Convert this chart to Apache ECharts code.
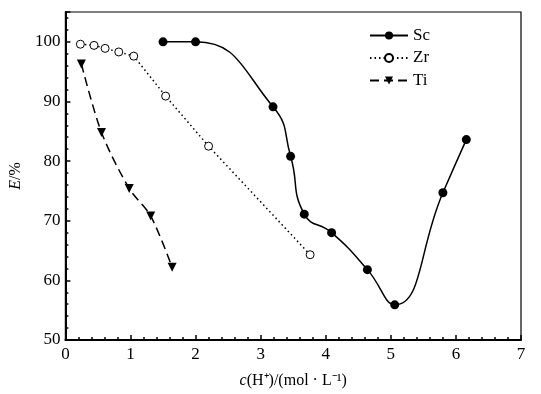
<!DOCTYPE html>
<html><head><meta charset="utf-8">
<script src="https://cdn.jsdelivr.net/npm/echarts@6/dist/echarts.min.js"></script>
<style>html,body{margin:0;padding:0;background:#fff}#c{width:541px;height:394px}</style>
</head><body><div id="c"></div>
<script>
const scX = [1.50, 2.00, 3.19, 3.46, 3.67, 4.09, 4.64, 5.06, 5.80, 6.16];
const scY = [100.0, 100.0, 89.1, 80.8, 71.1, 68.0, 61.8, 55.9, 74.7, 83.6];
const zrX = [0.23, 0.44, 0.61, 0.82, 1.05, 1.54, 2.20, 3.76];
const zrY = [99.6, 99.4, 98.9, 98.3, 97.6, 90.9, 82.5, 64.3];
const tiX = [0.245, 0.555, 0.98, 1.31, 1.64];
const tiY = [96.3, 84.8, 75.4, 70.8, 62.2];
const xTicks = [0,1,2,3,4,5,6,7];
const yTicks = [50,60,70,80,90,100];
const pair = (xs, ys) => xs.map((x,i)=>[x, ys[i]]);
const FONT = '"Liberation Serif", "Times New Roman", serif';
const chart = echarts.init(document.getElementById('c'));
chart.setOption({
  animation:false,
  backgroundColor:'#fff',
  grid:{left:63, top:12, right:20, bottom:52, show:true, borderColor:'#000', borderWidth:1.2},
  legend:{
    left:364, top:22, orient:'vertical', itemWidth:38, itemHeight:10, itemGap:5.5,
    textStyle:{fontFamily:FONT, fontSize:17, color:'#000'},
    data:['Sc','Zr','Ti']
  },
  xAxis:{
    type:'value', min:0, max:7, interval:1,
    name:'{i|c}(H⁺)/(mol · L⁻¹)', nameLocation:'middle', nameGap:33,
    nameTextStyle:{fontFamily:FONT, fontSize:16, color:'#000', rich:{i:{fontStyle:'italic', fontFamily:FONT, fontSize:16, color:'#000'}}},
    axisLine:{lineStyle:{color:'#000', width:2}},
    axisTick:{inside:true, length:5, lineStyle:{color:'#000', width:1.5}},
    minorTick:{show:true, splitNumber:5, length:3, lineStyle:{color:'#000', width:1.5}},
    axisLabel:{fontFamily:FONT, fontSize:17, color:'#000', margin:6,
      formatter:v=>xTicks.includes(v)?String(v):''},
    splitLine:{show:false}
  },
  yAxis:{
    type:'value', min:50, max:105, interval:10,
    name:'{i|E}/%', nameLocation:'middle', nameGap:40, nameRotate:90,
    nameTextStyle:{fontFamily:FONT, fontSize:16, color:'#000', rich:{i:{fontStyle:'italic', fontFamily:FONT, fontSize:16, color:'#000'}}},
    axisLine:{lineStyle:{color:'#000', width:2}},
    axisTick:{inside:true, length:5, lineStyle:{color:'#000', width:1.5}},
    minorTick:{show:true, splitNumber:5, length:3, lineStyle:{color:'#000', width:1.5}},
    axisLabel:{fontFamily:FONT, fontSize:17, color:'#000', margin:5,
      formatter:v=>yTicks.includes(v)?String(v):''},
    splitLine:{show:false}
  },
  series:[
    {name:'Sc', type:'line', data:pair(scX,scY), smooth:0.5, symbol:'circle', symbolSize:9,
      itemStyle:{color:'#000'}, lineStyle:{color:'#000', width:1.5}},
    {name:'Zr', type:'line', data:pair(zrX,zrY), symbol:'circle', symbolSize:8,
      itemStyle:{color:'#fff', borderColor:'#000', borderWidth:1}, lineStyle:{color:'#000', width:1.5, type:[1.5,3]}},
    {name:'Ti', type:'line', data:pair(tiX,tiY), smooth:0.3, symbol:'triangle', symbolRotate:180, symbolSize:9,
      itemStyle:{color:'#000'}, lineStyle:{color:'#000', width:1.5, type:[9,5]}}
  ]
});
</script></body></html>
